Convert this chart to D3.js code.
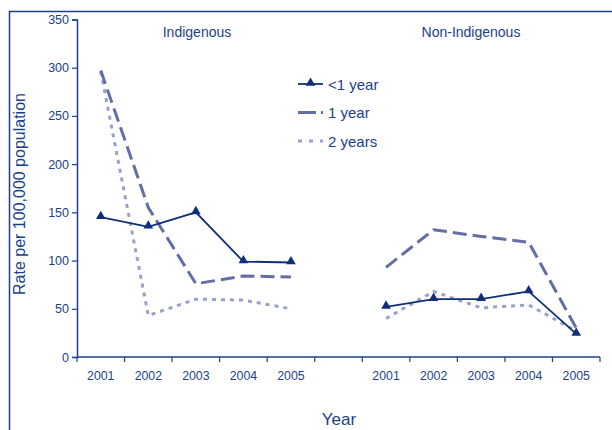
<!DOCTYPE html>
<html>
<head>
<meta charset="utf-8">
<script src="https://cdn.jsdelivr.net/npm/d3@7"></script>
<style>
  body { margin: 0; background: #fff; }
  text { font-family: "Liberation Sans", Arial, sans-serif; fill: #1c3f8c; }
</style>
</head>
<body>
<script>
var categories = ["I2001", "I2002", "I2003", "I2004", "I2005", "gap", "N2001", "N2002", "N2003", "N2004", "N2005"];
var tickLabels = ["2001", "2002", "2003", "2004", "2005", "", "2001", "2002", "2003", "2004", "2005"];
var indigenousCats = ["I2001", "I2002", "I2003", "I2004", "I2005"];
var nonIndigenousCats = ["N2001", "N2002", "N2003", "N2004", "N2005"];

var indUnder1 = [145, 135, 150, 99, 98];
var ind1Year = [297, 155, 76, 84, 83];
var ind2Years = [296, 43, 60, 59, 50];

var nonUnder1 = [52, 60, 60, 68, 24];
var non1Year = [93, 132, 125, 119, 30];
var non2Years = [40, 68, 51, 54, 27];

var yTicks = [0, 50, 100, 150, 200, 250, 300, 350];

function drawChart() {
  var width = 612;
  var height = 430;
  var navy = "#1c3f8c";

  var svg = d3.select("body")
    .append("svg")
    .attr("width", width)
    .attr("height", height);

  // frame
  svg.append("path")
    .attr("d", "M9.5,430 L9.5,11.5 L612,11.5")
    .attr("fill", "none")
    .attr("stroke", navy)
    .attr("stroke-width", 1.5);

  var x = d3.scaleBand().domain(categories).range([77, 600]);
  var y = d3.scaleLinear().domain([0, 350]).range([357, 19.5]);

  // y axis
  var yAxis = svg.append("g")
    .attr("transform", "translate(77,0)")
    .call(d3.axisLeft(y).tickValues(yTicks).tickSize(5).tickPadding(3));
  yAxis.select(".domain").attr("stroke", navy).attr("stroke-width", 1.5);
  yAxis.selectAll(".tick line").attr("stroke", navy).attr("stroke-width", 1.2);
  yAxis.selectAll("text").style("font-size", "12.5px").attr("fill", navy);

  // x axis
  var xAxis = svg.append("g")
    .attr("transform", "translate(0,357)")
    .call(d3.axisBottom(x).tickFormat(function (d, i) { return tickLabels[i]; }).tickSize(0).tickPadding(14));
  xAxis.select(".domain").remove();
  xAxis.selectAll("text").style("font-size", "12.3px").attr("fill", navy);

  svg.append("line")
    .attr("x1", 77).attr("x2", 600)
    .attr("y1", 357).attr("y2", 357)
    .attr("stroke", navy).attr("stroke-width", 1.5);

  var bounds = categories.map(function (c) { return x(c); }).concat([x.range()[1]]);
  svg.append("g").selectAll("line")
    .data(bounds)
    .enter()
    .append("line")
      .attr("x1", function (d) { return d; })
      .attr("x2", function (d) { return d; })
      .attr("y1", 357)
      .attr("y2", 362)
      .attr("stroke", navy)
      .attr("stroke-width", 1.2);

  // axis titles
  svg.append("text")
    .attr("transform", "translate(25,194) rotate(-90)")
    .attr("text-anchor", "middle")
    .style("font-size", "16px")
    .text("Rate per 100,000 population");

  svg.append("text")
    .attr("x", 339).attr("y", 425)
    .attr("text-anchor", "middle")
    .style("font-size", "17px")
    .text("Year");

  svg.append("text")
    .attr("x", 197).attr("y", 37)
    .attr("text-anchor", "middle")
    .style("font-size", "14px")
    .text("Indigenous");

  svg.append("text")
    .attr("x", 471).attr("y", 37)
    .attr("text-anchor", "middle")
    .style("font-size", "14px")
    .text("Non-Indigenous");

  var series = [
    { name: "<1 year", color: "#0f2f7a", dash: null, legendDash: null, width: 1.8, marker: true },
    { name: "1 year", color: "#636ea6", dash: "14,6", legendDash: "18,5,2,20", width: 3, marker: false },
    { name: "2 years", color: "#9aa0cc", dash: "4,5", legendDash: "4,7", width: 3, marker: false }
  ];
  var indData = [indUnder1, ind1Year, ind2Years];
  var nonData = [nonUnder1, non1Year, non2Years];

  var line = d3.line()
    .x(function (d) { return x(d.cat) + x.bandwidth() / 2; })
    .y(function (d) { return y(d.value); });

  var tri = d3.symbol().type(d3.symbolTriangle).size(40);

  // draw in reverse so the solid line is on top
  for (var s = series.length - 1; s >= 0; s--) {
    var groups = [
      indigenousCats.map(function (c, i) { return { cat: c, value: indData[s][i] }; }),
      nonIndigenousCats.map(function (c, i) { return { cat: c, value: nonData[s][i] }; })
    ];
    groups.forEach(function (pts) {
      svg.append("path")
        .datum(pts)
        .attr("d", line)
        .attr("fill", "none")
        .attr("stroke", series[s].color)
        .attr("stroke-width", series[s].width)
        .attr("stroke-dasharray", series[s].dash);

      if (series[s].marker) {
        svg.append("g").selectAll("path")
          .data(pts)
          .enter()
          .append("path")
            .attr("d", tri)
            .attr("transform", function (d) {
              return "translate(" + (x(d.cat) + x.bandwidth() / 2) + "," + (y(d.value) - 1) + ")";
            })
            .attr("fill", series[s].color);
      }
    });
  }

  // legend
  var legend = svg.append("g").attr("transform", "translate(298,84)");
  series.forEach(function (sr, i) {
    var g = legend.append("g").attr("transform", "translate(0," + (i * 28.5) + ")");
    g.append("line")
      .attr("x1", 0).attr("x2", 25)
      .attr("y1", 0).attr("y2", 0)
      .attr("stroke", sr.color)
      .attr("stroke-width", sr.width)
      .attr("stroke-dasharray", sr.legendDash);
    if (sr.marker) {
      g.append("path").attr("d", tri).attr("transform", "translate(12.5,-1)").attr("fill", sr.color);
    }
    g.append("text")
      .attr("x", 30).attr("y", 5.5)
      .style("font-size", "15px")
      .text(sr.name);
  });
}

drawChart();
</script>
</body>
</html>
